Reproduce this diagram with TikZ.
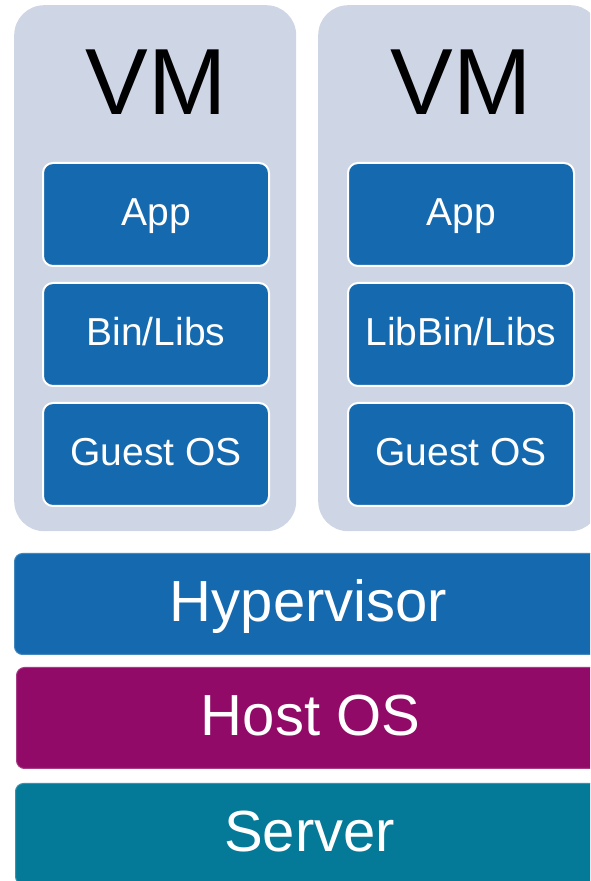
\documentclass[tikz,border=0pt]{standalone}
\usepackage{fontspec}
\setmainfont{Liberation Sans}
\usetikzlibrary{positioning}
\definecolor{vmgray}{HTML}{CED5E4}
\definecolor{layerblue}{HTML}{1469AF}
\definecolor{hostpurple}{HTML}{920A67}
\definecolor{serverteal}{HTML}{047A98}

\begin{document}
\begin{tikzpicture}
          [x=1pt, y=1pt,
           vm/.style={fill=vmgray, rounded corners=30pt, inner sep=0pt,
                      minimum width=282pt, minimum height=526pt, anchor=north west},
           vmlabel/.style={font=\fontsize{94}{100}\selectfont, anchor=base},
           part/.style={fill=layerblue, draw=white, line width=2pt, rounded corners=10pt,
                        text=white, minimum width=226pt, minimum height=103pt, inner sep=0pt,
                        text height=28pt, text depth=5pt,
                        font=\fontsize{39}{47}\selectfont},
           layer/.style={line width=1pt, rounded corners=8pt, text=white, anchor=north west,
                         minimum width=588pt, minimum height=101pt, inner sep=0pt,
                         text height=42pt, text depth=6pt,
                         font=\fontsize{58}{66}\selectfont}]
          \useasboundingbox (0,0) rectangle (590,881);
          \clip (0,0) rectangle (590,881);

          \node (vml) [vm] at (14,876) {};
          \node (vmr) [vm] at (318,876) {};
          \node (vmltext) [vmlabel] at (156,766) {VM};
          \node (vmrtext) [vmlabel] at (461,766) {VM};

          % left machine
          \node (appl) [part, anchor=north] at (156,719) {App};
          \node (binl) [part, below = 15pt of appl] {Bin/Libs};
          \node (osl) [part, below = 15pt of binl] {Guest OS};

          % right machine
          \node (appr) [part, anchor=north] at (461,719) {App};
          \node (binr) [part, below = 15pt of appr] {LibBin/Libs};
          \node (osr) [part, below = 15pt of binr] {Guest OS};

          \node (hyp) [layer, fill=layerblue, draw=layerblue!80!white] at (14,328) {Hypervisor};
          \node (host) [layer, fill=hostpurple, draw=hostpurple!80!white] at (16,214) {Host OS};
          \node (server) [layer, fill=serverteal, draw=serverteal!80!white] at (15,98) {Server};

        \end{tikzpicture}
\end{document}
